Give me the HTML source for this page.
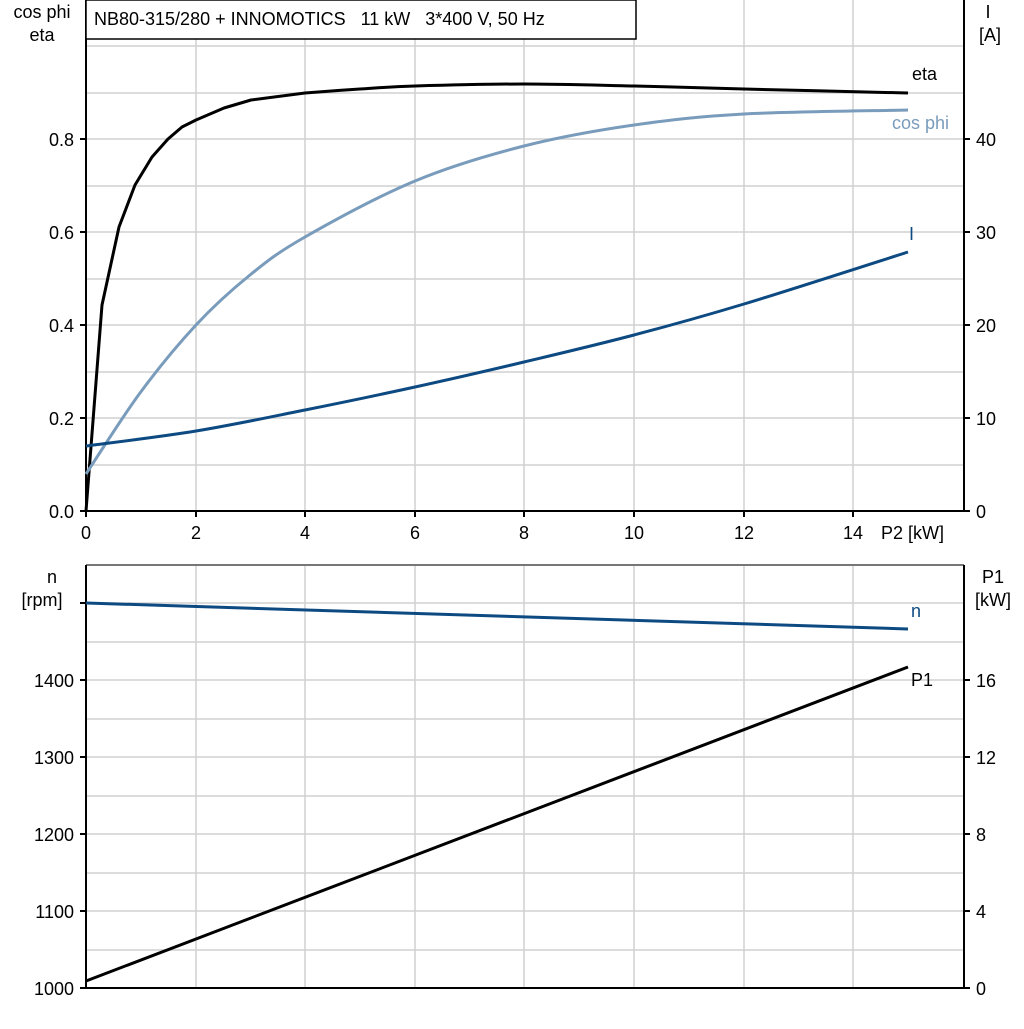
<!DOCTYPE html>
<html><head><meta charset="utf-8"><style>
body{margin:0;background:#fff;}
svg text{font-family:"Liberation Sans",Arial,sans-serif;font-size:18px;fill:#000;white-space:pre;}
</style></head><body>
<svg width="1024" height="1024" viewBox="0 0 1024 1024" xmlns="http://www.w3.org/2000/svg">
<g stroke="#d0d0d0" stroke-width="1.5">
<line x1="86" y1="46" x2="964" y2="46"/><line x1="86" y1="93" x2="964" y2="93"/><line x1="86" y1="139" x2="964" y2="139"/><line x1="86" y1="186" x2="964" y2="186"/><line x1="86" y1="232" x2="964" y2="232"/><line x1="86" y1="279" x2="964" y2="279"/><line x1="86" y1="325" x2="964" y2="325"/><line x1="86" y1="372" x2="964" y2="372"/><line x1="86" y1="418" x2="964" y2="418"/><line x1="86" y1="465" x2="964" y2="465"/>
<line x1="196" y1="0" x2="196" y2="511"/><line x1="305" y1="0" x2="305" y2="511"/><line x1="415" y1="0" x2="415" y2="511"/><line x1="524" y1="0" x2="524" y2="511"/><line x1="634" y1="0" x2="634" y2="511"/><line x1="744" y1="0" x2="744" y2="511"/><line x1="853" y1="0" x2="853" y2="511"/>
<line x1="86" y1="603" x2="964" y2="603"/><line x1="86" y1="642" x2="964" y2="642"/><line x1="86" y1="680" x2="964" y2="680"/><line x1="86" y1="719" x2="964" y2="719"/><line x1="86" y1="757" x2="964" y2="757"/><line x1="86" y1="796" x2="964" y2="796"/><line x1="86" y1="834" x2="964" y2="834"/><line x1="86" y1="873" x2="964" y2="873"/><line x1="86" y1="911" x2="964" y2="911"/><line x1="86" y1="950" x2="964" y2="950"/>
<line x1="196" y1="565" x2="196" y2="988"/><line x1="305" y1="565" x2="305" y2="988"/><line x1="415" y1="565" x2="415" y2="988"/><line x1="524" y1="565" x2="524" y2="988"/><line x1="634" y1="565" x2="634" y2="988"/><line x1="744" y1="565" x2="744" y2="988"/><line x1="853" y1="565" x2="853" y2="988"/>
</g>
<line x1="86" y1="565" x2="964" y2="565" stroke="#777" stroke-width="2"/>
<g stroke="#000" stroke-width="2" fill="none">
<line x1="86" y1="0" x2="86" y2="511"/><line x1="964" y1="0" x2="964" y2="511"/><line x1="85" y1="511" x2="965" y2="511"/>
<line x1="86" y1="565" x2="86" y2="988"/><line x1="964" y1="565" x2="964" y2="988"/><line x1="85" y1="988" x2="965" y2="988"/>
<path d="M80 139H86M80 232H86M80 325H86M80 418H86M80 511H86M964 139H970M964 232H970M964 325H970M964 418H970M964 511H970"/>
<path d="M80 603H86M80 680H86M80 757H86M80 834H86M80 911H86M80 988H86M964 680H970M964 757H970M964 834H970M964 911H970M964 988H970"/>
<path d="M86 511V517M196 511V517M305 511V517M415 511V517M524 511V517M634 511V517M744 511V517M853 511V517"/>
</g>
<rect x="86" y="0" width="550" height="39" fill="#fff" stroke="#000" stroke-width="1.5"/>
<text x="94" y="25">NB80-315/280 + INNOMOTICS   11 kW   3*400 V, 50 Hz</text>
<g text-anchor="end">
<text x="74" y="146">0.8</text><text x="74" y="239">0.6</text><text x="74" y="332">0.4</text><text x="74" y="425">0.2</text><text x="74" y="518">0.0</text>
<text x="74" y="687">1400</text><text x="74" y="764">1300</text><text x="74" y="841">1200</text><text x="74" y="918">1100</text><text x="74" y="995">1000</text>
</g>
<g text-anchor="start">
<text x="976" y="146">40</text><text x="976" y="239">30</text><text x="976" y="332">20</text><text x="976" y="425">10</text><text x="976" y="518">0</text>
<text x="976" y="687">16</text><text x="976" y="764">12</text><text x="976" y="841">8</text><text x="976" y="918">4</text><text x="976" y="995">0</text>
</g>
<g text-anchor="middle">
<text x="86" y="539">0</text><text x="196" y="539">2</text><text x="305" y="539">4</text><text x="415" y="539">6</text><text x="524" y="539">8</text><text x="634" y="539">10</text><text x="744" y="539">12</text><text x="853" y="539">14</text>
<text x="42" y="18">cos phi</text><text x="42" y="41">eta</text>
<text x="988" y="18">I</text><text x="990" y="41">[A]</text>
<text x="52" y="583">n</text><text x="42" y="606">[rpm]</text>
<text x="993" y="583">P1</text><text x="993" y="606">[kW]</text>
</g>
<text x="881" y="539">P2 [kW]</text>
<g fill="none" stroke-width="3" stroke-linejoin="round">
<path id="eta" stroke="#000"/>
<path id="cos" stroke="#7a9cbc"/>
<path id="cur" stroke="#0d4a82"/>
<path stroke="#0d4a82" d="M86 603L908 629"/>
<path stroke="#000" d="M86 981L908 667"/>
</g>
<text x="912" y="80">eta</text>
<text x="892" y="129" style="fill:#7a9cbc">cos phi</text>
<text x="909" y="240" style="fill:#0d4a82">I</text>
<text x="911" y="617" style="fill:#0d4a82">n</text>
<text x="911" y="686">P1</text>
</svg>
<script>
function cr(p){var d="M"+p[0][0]+" "+p[0][1];for(var i=0;i<p.length-1;i++){var p0=p[i>0?i-1:i],p1=p[i],p2=p[i+1],p3=p[i+2<p.length?i+2:i+1];var c1x=p1[0]+(p2[0]-p0[0])/6,c1y=p1[1]+(p2[1]-p0[1])/6,c2x=p2[0]-(p3[0]-p1[0])/6,c2y=p2[1]-(p3[1]-p1[1])/6;d+="C"+c1x.toFixed(1)+" "+c1y.toFixed(1)+" "+c2x.toFixed(1)+" "+c2y.toFixed(1)+" "+p2[0]+" "+p2[1];}return d;}
document.getElementById("eta").setAttribute("d","M86 511L102 305L119 227L135 185L152 157L168 139L182 127L196 120L224 108L251 100L305 93"+cr([[305,93],[360,89],[415,86],[524,84],[634,86],[744,89],[908,93]]).replace(/^M[^C]*/,""));
document.getElementById("cos").setAttribute("d",cr([[86,474],[140,393],[196,325],[250,275],[305,237],[415,181],[524,146],[634,125],[744,114],[908,110]]));
document.getElementById("cur").setAttribute("d",cr([[86,446],[196,431],[305,410],[415,387],[524,362],[634,335],[744,304],[908,252]]));
</script>
</body></html>
